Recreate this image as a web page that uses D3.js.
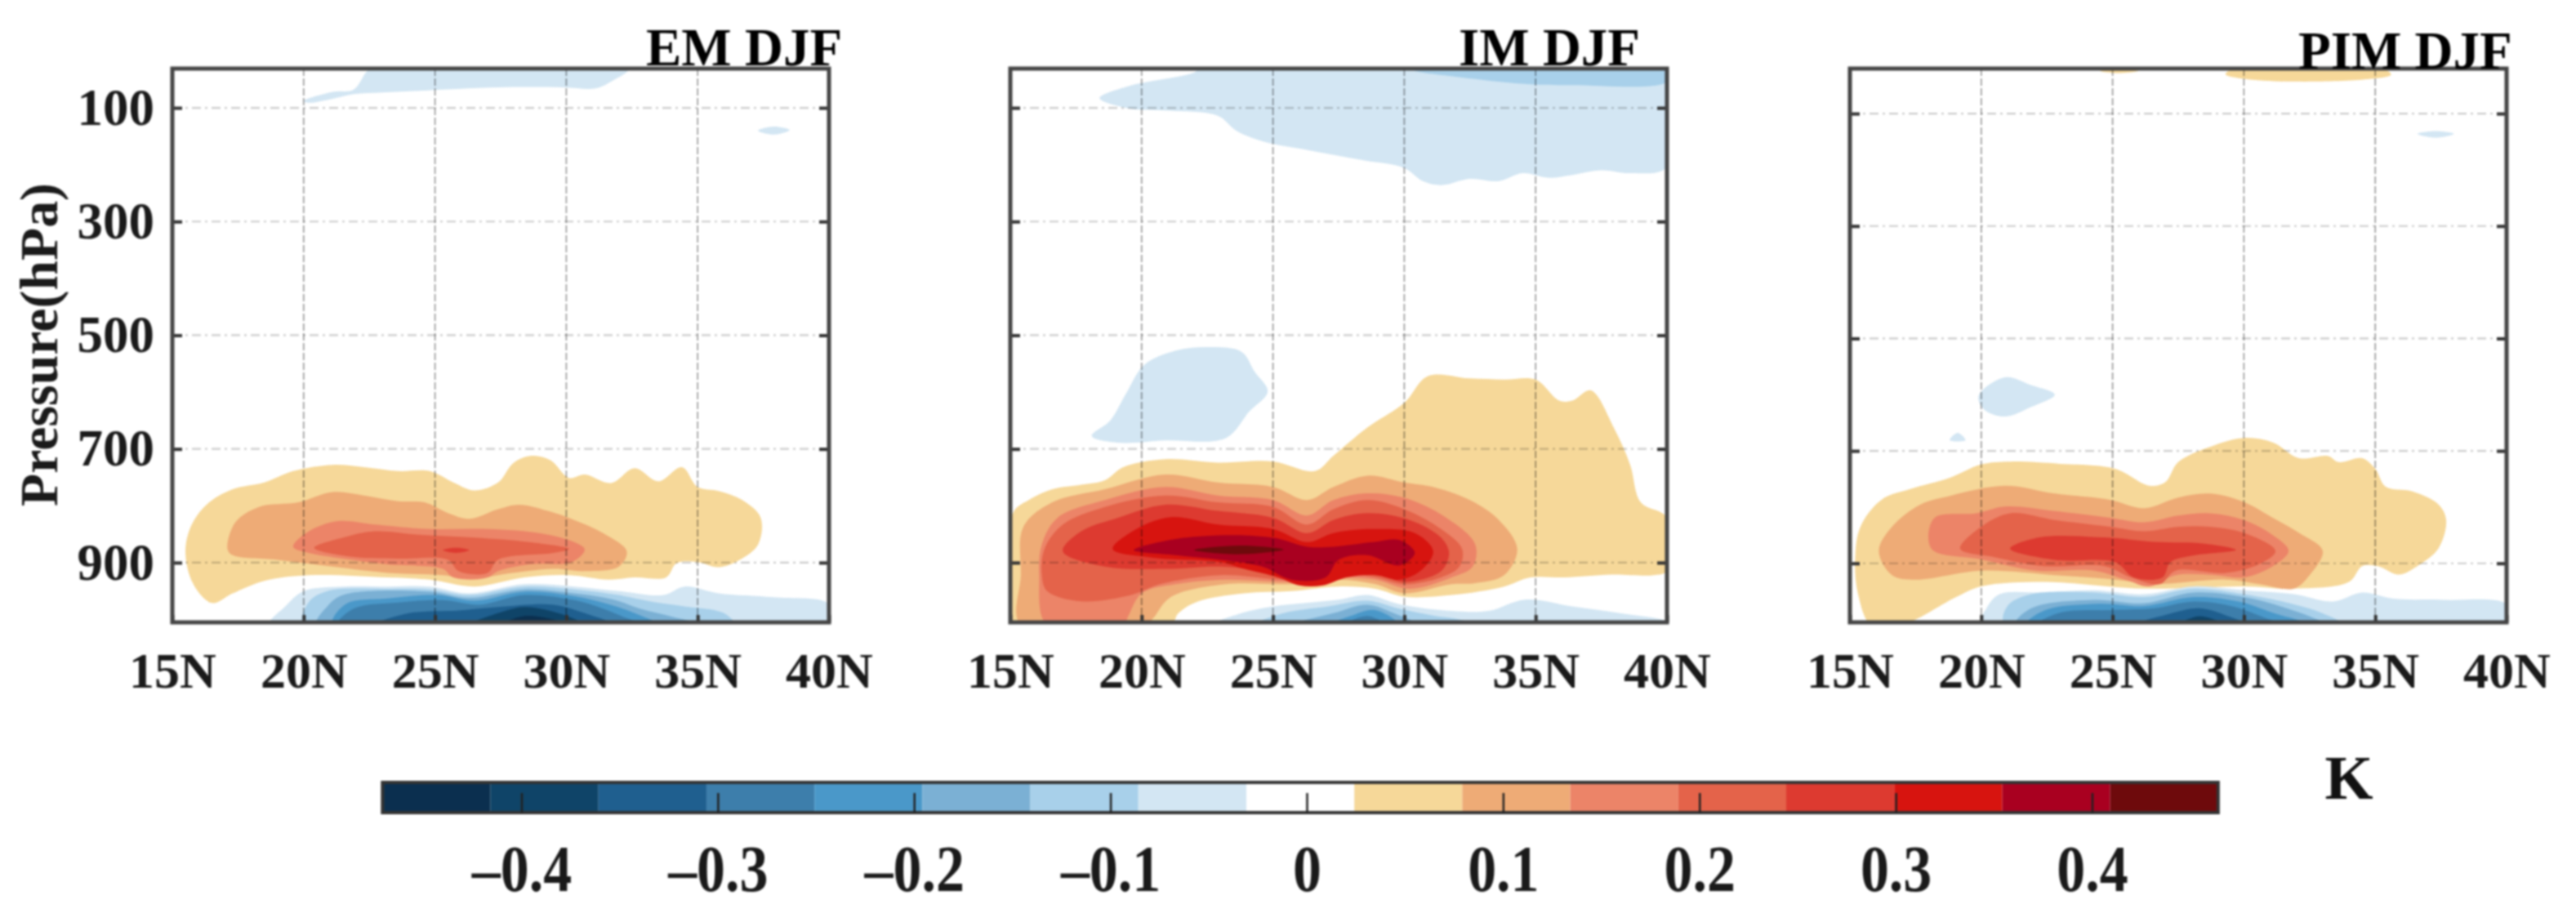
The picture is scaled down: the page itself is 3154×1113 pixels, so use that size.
<!DOCTYPE html>
<html>
<head>
<meta charset="utf-8">
<script src="https://cdn.jsdelivr.net/npm/d3@7"></script>
<style>
  html, body { margin: 0; padding: 0; background: #fff; }
  svg { display: block; filter: blur(1.3px); }
  text { font-family: "Liberation Serif", serif; font-weight: bold; }
  .grid line { mix-blend-mode: multiply; }
</style>
</head>
<body>
<svg id="chart" width="3154" height="1113"></svg>
<script>
// tick labels
var latTicks = [15, 20, 25, 30, 35, 40];
var pressureTicks = [100, 300, 500, 700, 900];
var colorTicks = [-0.4, -0.3, -0.2, -0.1, 0, 0.1, 0.2, 0.3, 0.4];

// colour bar
var colorBounds = [-0.471, -0.416, -0.361, -0.306, -0.251, -0.196, -0.141, -0.086, -0.031,
  0.024, 0.079, 0.134, 0.189, 0.244, 0.299, 0.354, 0.409, 0.464];
var colorValues = ['#0b2f4f', '#0f4468', '#1f5f8f', '#3d7eab', '#4a98c9', '#7bb0d4', '#a8d0ea', '#d3e6f3', '#ffffff',
  '#f6d899', '#eeab76', '#ec8468', '#e4634a', '#dd3a30', '#d7140f', '#a90020', '#6e0a0c'];

// filled contours: [K, [[lat, hPa], ...]], lowest level first
var emContours = [
  [0.05, [[15.5,883],[15.7,837],[16.3,798],[17.3,771],[18.5,759],[19.6,739],[21.1,728],[22.3,732],[23.6,739],[24.8,739],[25.7,759],[26.5,773],[27.4,759],[28,724],[28.7,712],[29.4,720],[30.1,751],[30.7,745],[31.7,760],[32.6,734],[33.5,757],[34.4,732],[35,767],[35.8,774],[36.7,790],[37.4,821],[37.3,868],[36.6,895],[35.8,908],[35,899],[34.2,901],[33.8,926],[32.6,926],[31.6,930],[30.1,922],[28.4,926],[26.5,942],[24.8,930],[23.2,926],[20.2,922],[18.5,932],[17.3,954],[16.5,971],[15.8,938]]],
  [0.1, [[17.1,876],[17.4,829],[18.3,802],[19.8,794],[21.1,776],[22.3,782],[23.6,792],[24.6,794],[25.5,813],[26.3,823],[27.4,806],[28.2,798],[29.3,809],[30.3,825],[31.4,848],[32.3,880],[32,907],[30.7,915],[29.5,911],[27.4,922],[26.5,930],[25.3,922],[23.2,918],[21.1,907],[19,895],[17.3,887]]],
  [0.16, [[19.6,872],[20.2,845],[21.3,827],[22.7,833],[24.8,841],[27,841],[29.1,849],[30.3,864],[30.7,877],[30.2,899],[28.6,903],[27.4,915],[27,926],[25.7,926],[25.3,911],[23.2,903],[21.5,893],[20.2,883]]],
  [0.21, [[20.4,874],[21.5,856],[22.7,845],[24.4,851],[26.5,856],[28.6,864],[30.1,876],[29.5,883],[27.4,895],[27,918],[25.9,915],[25.5,895],[23.6,893],[21.7,889]]],
  [0.27, [[25.3,878],[25.8,874],[26.3,878],[25.8,883]]],
  [-0.06, [[18.7,1010],[19.3,977],[20,950],[21.5,942],[23.2,942],[24.8,942],[26.3,954],[28.4,938],[30.3,942],[32,950],[33.7,957],[34.5,942],[35.8,954],[37.9,961],[40,973],[40,1010]]],
  [-0.11, [[20,1010],[20.2,969],[20.9,950],[23.2,946],[24.8,947],[26.3,957],[28.4,942],[30.3,947],[32,957],[33.3,969],[34.5,977],[36,989],[36.4,1010]]],
  [-0.17, [[20.5,1010],[20.9,977],[21.5,957],[24.8,951],[26.3,962],[28.4,947],[30.3,954],[31.8,965],[32.8,981],[34.1,996],[35.2,1010]]],
  [-0.22, [[21.1,1010],[21.6,973],[23.2,963],[25.1,957],[26.5,967],[28.4,951],[30.3,959],[31.6,973],[32.6,989],[33.5,1010]]],
  [-0.28, [[21.3,1010],[21.9,981],[23.6,970],[25.3,966],[26.7,974],[28.4,957],[30.3,966],[31.4,981],[32.2,996],[33,1010]]],
  [-0.33, [[22.7,1010],[24,989],[25.9,984],[27.4,978],[29.5,974],[30.7,989],[31.8,1010]]],
  [-0.39, [[26.3,1010],[27.4,989],[28.4,978],[29.7,989],[30.7,1010]]],
  [-0.44, [[27.5,1010],[28.4,994],[29.5,1000],[30.1,1010]]],
  [-0.06, [[20,88],[21.1,72],[21.9,68],[22.4,36],[22.6,30],[32.4,30],[31.7,54],[31.1,66],[29.9,64],[27.4,64],[24.4,70],[23,73],[21.9,76],[21.1,84],[20.2,91]]],
  [-0.06, [[37.3,140],[37.9,133],[38.5,139],[37.9,147]]]
];

var imContours = [
  [-0.06, [[18.4,83],[19.5,62],[22,38],[22.2,30],[40,30],[40,204],[38.6,215],[37.5,210],[36.4,218],[35.5,223],[34.5,215],[33.6,229],[32.5,225],[31.4,236],[30.7,229],[30,206],[28.4,192],[26.4,175],[24.6,159],[23.6,140],[22.9,114],[21.1,105],[19.5,101]]],
  [-0.11, [[30.2,30],[30.4,35],[32.1,46],[34.6,58],[36.4,60],[40,54],[40,30]]],
  [-0.06, [[18.1,677],[18.8,650],[19.4,603],[20.1,552],[21.3,527],[22.5,521],[23.8,529],[24.3,564],[24.8,599],[24.1,634],[23.2,681],[20.9,685],[19.1,689]]],
  [0.05, [[15.1,1010],[15.1,813],[15.7,790],[16.6,771],[17.7,763],[18.6,755],[19.3,732],[20.9,718],[22.9,724],[25,722],[26.6,739],[27.3,712],[28.6,662],[30,619],[30.9,572],[32.5,576],[33.8,578],[35,578],[35.9,615],[36.4,615],[37.1,597],[38,665],[38.6,728],[39,794],[40,821],[40,915],[39.5,922],[37.9,921],[36.1,926],[34.8,926],[33.8,942],[31.8,957],[30,960],[28.9,946],[27.5,942],[25.7,950],[23.9,954],[22.1,969],[21.4,989],[21.1,1010]]],
  [0.1, [[15.4,1010],[15.4,922],[15.5,837],[16.6,794],[18.6,771],[20.9,745],[22.9,759],[25,767],[26.3,790],[27.3,767],[28.6,747],[30,759],[31.1,767],[32.5,790],[33.6,825],[34.3,876],[33.8,922],[32.7,936],[31.8,938],[30,954],[28.9,938],[27.5,930],[25.7,938],[23.2,938],[21.1,961],[20.4,1000],[20.1,1010]]],
  [0.16, [[16.4,1010],[16.1,922],[16.2,868],[16.8,821],[18.6,790],[20.9,767],[22.9,782],[25,790],[26.3,817],[27.3,790],[28.6,778],[30,786],[31.6,821],[32.7,868],[32.6,907],[31.8,926],[30.2,946],[28.9,930],[27.5,926],[25.7,934],[23.2,930],[21.3,938],[20,954],[19.5,993],[19.3,1010]]],
  [0.21, [[16.2,922],[16.3,876],[17,833],[18.6,802],[20.9,782],[22.9,794],[25,802],[26.3,833],[27.3,806],[28.6,790],[30,806],[31.4,841],[32.2,876],[32.1,907],[31.4,926],[30,938],[28.9,926],[27.5,918],[25.7,930],[23,922],[20.7,938],[19.6,957],[17.7,968],[16.4,950]]],
  [0.27, [[17,880],[17.7,845],[19.1,821],[20.9,798],[22.9,809],[25,821],[26.3,848],[27.3,825],[28.6,813],[30.2,825],[31.4,856],[31.7,883],[31.4,915],[30,934],[28.9,918],[27.5,911],[25.7,918],[23,907],[20.9,911],[18.6,907]]],
  [0.32, [[18.9,876],[19.8,841],[21.1,820],[22.9,833],[25,841],[26.3,864],[27.3,848],[28.8,841],[30.4,848],[31.1,880],[30.6,915],[29.8,930],[28.9,922],[27.8,926],[26.9,940],[26,940],[25.2,926],[23.9,911],[23,899],[20.4,891]]],
  [0.38, [[19.7,878],[21.1,860],[22.9,852],[25,856],[26.3,872],[27.3,872],[28.8,864],[29.8,860],[30.4,883],[29.8,905],[28.6,887],[27.5,895],[27,926],[25.7,930],[24.6,907],[23,895],[21.3,887]]],
  [0.43, [[22,878],[22.7,873],[23.9,870],[25.4,877],[23.9,885],[22.7,883]]],
  [-0.06, [[22.7,1010],[23.8,989],[25,977],[27.5,965],[28.6,957],[29.8,973],[31.8,985],[33.2,985],[34.6,965],[36.4,977],[38.2,989],[40,1004],[40,1010]]],
  [-0.11, [[24.3,1010],[25.4,989],[27.1,977],[28.6,967],[29.8,981],[31.1,993],[32.1,1000],[32.7,1010]]],
  [-0.17, [[25.7,1010],[27.3,989],[28.6,974],[29.6,989],[30.5,1010]]],
  [-0.22, [[27.1,1010],[28,993],[28.8,983],[29.5,996],[29.8,1010]]],
  [-0.28, [[27.7,1010],[28.6,994],[29.3,1010]]]
];

var pimContours = [
  [0.05, [[15.8,1010],[15.3,953],[15.2,890],[15.4,835],[16.2,787],[17.3,768],[18.8,748],[20,724],[21.1,719],[23,723],[25.1,732],[26.4,762],[27,756],[27.5,720],[28.7,693],[30,677],[31.1,685],[32.1,713],[33.2,709],[33.6,720],[34.5,713],[35,732],[35.4,764],[36.4,772],[37.4,795],[37.7,823],[37.4,874],[36.6,905],[35.9,920],[35.1,905],[34.5,905],[34,933],[31.9,945],[30,941],[26.2,945],[22.4,933],[20,941],[19,961],[17.3,1004],[16.6,1010]]],
  [0.1, [[16.1,878],[16.6,835],[17.7,795],[18.8,780],[20.9,762],[22.8,776],[24.9,787],[26.2,802],[27.5,783],[28.7,776],[30,791],[31.1,819],[32.1,846],[33,878],[32.5,921],[31.9,945],[30.6,937],[29.3,929],[26.6,937],[25.1,929],[22.8,921],[20,913],[17.5,929],[16.6,921]]],
  [0.16, [[18.1,874],[18.2,820],[19.8,811],[20.9,799],[22.8,807],[24.9,819],[26.2,827],[27.5,815],[28.7,811],[30,823],[31.1,850],[31.7,878],[31.1,905],[30,925],[28.9,921],[27.4,921],[26.4,941],[25.5,929],[24.3,913],[22.1,913],[20,893]]],
  [0.21, [[19.2,874],[20,835],[21.1,811],[22.8,823],[24.9,835],[26.2,843],[27.5,835],[28.7,835],[30,846],[31.2,878],[30.6,901],[29.3,917],[27.4,913],[26.8,937],[25.7,925],[24.7,905],[22.4,905],[20.5,889]]],
  [0.27, [[21.1,874],[22.2,854],[24.7,854],[26.6,862],[28.5,865],[29.7,876],[28.1,886],[27.2,898],[26.9,925],[25.8,925],[25.1,898],[22.8,894]]],
  [-0.06, [[20,1010],[20.2,980],[20.7,955],[22.4,952],[24.3,948],[26.2,955],[28.1,941],[30,948],[31.9,955],[33.4,968],[34.5,952],[35.7,963],[37.6,965],[40,973],[40,1010]]],
  [-0.11, [[20.9,1010],[21,976],[21.9,955],[24.3,952],[26.2,960],[28.1,945],[30,955],[31.9,973],[33,989],[33.8,1010]]],
  [-0.17, [[21.3,1010],[21.9,980],[24.3,965],[26.2,971],[28.1,952],[30,960],[31.5,978],[32.8,1000],[33.2,1010]]],
  [-0.22, [[21.7,1010],[22.4,984],[24.5,972],[26.2,976],[28.1,960],[29.8,968],[31.1,988],[32.5,1010]]],
  [-0.28, [[22.1,1010],[23,988],[25.1,983],[26.6,980],[28.1,968],[29.6,977],[30.8,997],[31.5,1010]]],
  [-0.33, [[25.8,1010],[27,992],[28.3,980],[29.4,994],[30.2,1010]]],
  [-0.39, [[27.5,1010],[28.3,994],[29.3,1010]]],
  [0.05, [[29.3,30],[30,38],[31.9,43],[34.7,39],[35.6,31],[35.4,22],[29.5,22]]],
  [0.05, [[24.5,24],[25.2,28],[26,24],[25.2,21]]],
  [-0.06, [[19.9,602],[20.9,569],[21.9,583],[22.8,600],[21.9,622],[20.9,639],[20.1,626]]],
  [-0.06, [[18.8,681],[19.1,668],[19.4,681]]],
  [-0.06, [[36.6,136],[37.3,131],[38,136],[37.3,143]]]
];

var svg = d3.select('#chart');
var plotW = 804, plotTop = 84, plotBottom = 762;

var level = d3.scaleThreshold().domain(colorBounds.slice(1, -1)).range(colorValues);

function drawPanel(left, title, contours, pMin, titleX, titleY, showY) {
  var x = d3.scaleLinear().domain([15, 40]).range([left, left + plotW]);
  var y = d3.scaleLinear().domain([pMin, 1005]).range([plotTop, plotBottom]);
  var id = 'clip' + left;

  svg.append('clipPath').attr('id', id).append('rect')
    .attr('x', left).attr('y', plotTop).attr('width', plotW).attr('height', plotBottom - plotTop);

  var path = d3.line()
    .x(function(d) { return x(d[0]); })
    .y(function(d) { return y(d[1]); })
    .curve(d3.curveCatmullRomClosed.alpha(0.5));

  svg.append('g').attr('clip-path', 'url(#' + id + ')')
    .selectAll('path').data(contours).enter().append('path')
    .attr('d', function(d) { return path(d[1]); })
    .attr('fill', function(d) { return level(d[0]); });

  // grid, MATLAB style on top of the fill
  svg.append('g').attr('class', 'grid').selectAll('line').data(latTicks.slice(1, -1)).enter().append('line')
    .attr('x1', x).attr('x2', x).attr('y1', plotTop).attr('y2', plotBottom)
    .attr('stroke', '#888').attr('stroke-width', 1.4).attr('stroke-dasharray', '9 3');
  svg.append('g').attr('class', 'grid').selectAll('line').data(pressureTicks).enter().append('line')
    .attr('x1', left).attr('x2', left + plotW).attr('y1', y).attr('y2', y)
    .attr('stroke', '#ccc').attr('stroke-width', 2.2).attr('stroke-dasharray', '11 5 3 5');

  // inward ticks and the tick labels
  var xAxis = d3.axisBottom(x).tickValues(latTicks).tickSize(-9).tickPadding(36)
    .tickFormat(function(d) { return d + 'N'; });
  var gx = svg.append('g').attr('transform', 'translate(0,' + plotBottom + ')').call(xAxis);
  gx.select('.domain').remove();
  gx.selectAll('line').attr('stroke', '#333').attr('stroke-width', 4);
  gx.selectAll('text').attr('font-size', 62).attr('fill', '#1a1a1a');

  var yAxis = d3.axisLeft(y).tickValues(pressureTicks).tickSize(-12).tickPadding(22);
  var gy = svg.append('g').attr('transform', 'translate(' + left + ',0)').call(yAxis);
  gy.select('.domain').remove();
  gy.selectAll('line').attr('stroke', '#333').attr('stroke-width', 4);
  gy.selectAll('text').attr('font-size', 63).attr('fill', '#1a1a1a');
  if (!showY) gy.selectAll('text').remove();

  var gr = svg.append('g').attr('transform', 'translate(' + (left + plotW) + ',0)')
    .call(d3.axisRight(y).tickValues(pressureTicks).tickSize(-12).tickFormat(''));
  gr.select('.domain').remove();
  gr.selectAll('line').attr('stroke', '#333').attr('stroke-width', 4);

  svg.append('rect').attr('x', left).attr('y', plotTop).attr('width', plotW).attr('height', plotBottom - plotTop)
    .attr('fill', 'none').attr('stroke', '#444').attr('stroke-width', 5);

  svg.append('text').attr('x', titleX).attr('y', titleY).attr('font-size', 65).attr('fill', '#000').text(title);
}

drawPanel(211, 'EM DJF', emContours, 31, 791, 80, true);
drawPanel(1237, 'IM DJF', imContours, 31, 1786, 80, false);
drawPanel(2265, 'PIM DJF', pimContours, 20, 2814, 84, false);

svg.append('text')
  .attr('transform', 'translate(70,422) rotate(-90)')
  .attr('text-anchor', 'middle')
  .attr('font-size', 66).attr('fill', '#1a1a1a')
  .attr('textLength', 396).attr('lengthAdjust', 'spacingAndGlyphs')
  .text('Pressure(hPa)');

// colour bar
var barTop = 958, barBottom = 995;
var bar = d3.scaleLinear().domain([-0.4, 0.4]).range([639, 2562]);

svg.append('g').selectAll('rect').data(colorValues).enter().append('rect')
  .attr('x', function(d, i) { return bar(colorBounds[i]); })
  .attr('width', function(d, i) { return bar(colorBounds[i + 1]) - bar(colorBounds[i]); })
  .attr('y', barTop).attr('height', barBottom - barTop)
  .attr('fill', function(d) { return d; });

svg.append('rect').attr('x', bar(colorBounds[0])).attr('y', barTop)
  .attr('width', bar(colorBounds[17]) - bar(colorBounds[0])).attr('height', barBottom - barTop)
  .attr('fill', 'none').attr('stroke', '#333').attr('stroke-width', 4);

svg.append('g').selectAll('line').data(colorTicks).enter().append('line')
  .attr('x1', bar).attr('x2', bar).attr('y1', barBottom - 24).attr('y2', barBottom)
  .attr('stroke', '#222').attr('stroke-width', 2.5);

svg.append('g').selectAll('text').data(colorTicks).enter().append('text')
  .attr('transform', function(d) { return 'translate(' + bar(d) + ',1091) scale(1,1.15)'; })
  .attr('text-anchor', 'middle').attr('font-size', 70).attr('fill', '#1a1a1a')
  .text(function(d) { return d < 0 ? '\u2013' + Math.abs(d) : d; });

svg.append('text').attr('x', 2876).attr('y', 978).attr('text-anchor', 'middle')
  .attr('font-size', 76).attr('fill', '#111').text('K');
</script>
</body>
</html>
